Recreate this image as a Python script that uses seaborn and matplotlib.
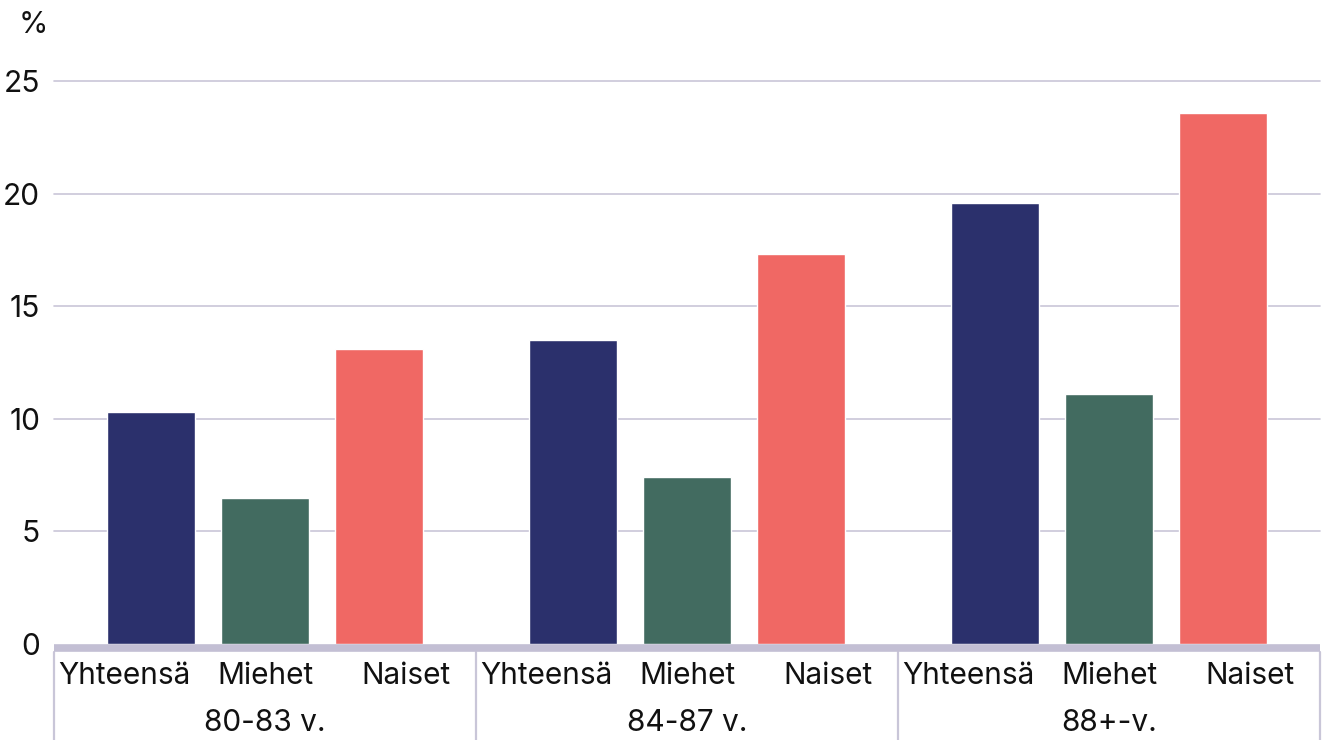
import matplotlib
matplotlib.use("Agg")
import matplotlib.pyplot as plt
import matplotlib.transforms as mtransforms
import seaborn as sns
import pandas as pd

# Age groups, sexes and shares (%)
age_groups = ["80-83 v.", "84-87 v.", "88+-v."]
sexes = ["Yhteensä", "Miehet", "Naiset"]
total = [10.3, 13.5, 19.6]
men = [6.5, 7.4, 11.1]
women = [13.1, 17.3, 23.6]
y_ticks = [0, 5, 10, 15, 20, 25]

colors = ["#2b306c", "#426b60", "#f06864"]
grid_color = "#c9c6d8"
text_color = "#111111"

df = pd.DataFrame({
    "group": age_groups * 3,
    "sex": [s for s in sexes for _ in age_groups],
    "value": total + men + women,
})

sns.set_theme(style="white")
plt.rcParams["font.family"] = ["Inter", "DejaVu Sans"]
FS = 21.5

fig = plt.figure(figsize=(13.23, 7.40), dpi=100)
ax = fig.add_axes([54 / 1323, 1 - 644 / 740, (1320 - 54) / 1323, (644 - 81) / 740])

sns.barplot(data=df, x="group", y="value", hue="sex", order=age_groups,
            hue_order=sexes, palette=colors, width=0.81, gap=0.228,
            saturation=1, legend=False, ax=ax)

ax.set_xlim(-0.5, 2.5)
ax.set_ylim(0, 25)
ax.set_yticks(y_ticks)
ax.set_yticklabels([str(t) for t in y_ticks], fontsize=FS, color=text_color)
ax.tick_params(axis="y", length=0, pad=10)
ax.set_xticks([])
ax.set_xlabel("")
ax.set_ylabel("")

# horizontal grid
for t in y_ticks[1:]:
    ax.axhline(t, color=grid_color, lw=1.2, zorder=0, clip_on=False)

for side in ["left", "right", "top"]:
    ax.spines[side].set_visible(False)
ax.spines["bottom"].set_color("#c3bfd4")
ax.spines["bottom"].set_linewidth(5.5)
ax.spines["bottom"].set_position(("outward", 3))
ax.spines["bottom"].set_capstyle("butt")

# category axis: sex labels, age-group labels and separators
trans = mtransforms.blended_transform_factory(ax.transData, ax.transAxes)
for gi, g in enumerate(age_groups):
    for si, s in enumerate(sexes):
        ax.text(gi + (si - 1) / 3, -32 / 563, s, transform=trans,
                ha="center", va="center", fontsize=FS, color=text_color)
    ax.text(gi, -79 / 563, g, transform=trans, ha="center", va="center",
            fontsize=FS, color=text_color)
for xb in [-0.5, 0.5, 1.5, 2.5]:
    ax.plot([xb, xb], [-8 / 563, -100 / 563], transform=trans,
            color=grid_color, lw=1.6, clip_on=False)

fig.text(33 / 1323, 1 - 25 / 740, "%", ha="center", va="center",
         fontsize=FS, color=text_color)

fig.savefig("out.png", dpi=100)
